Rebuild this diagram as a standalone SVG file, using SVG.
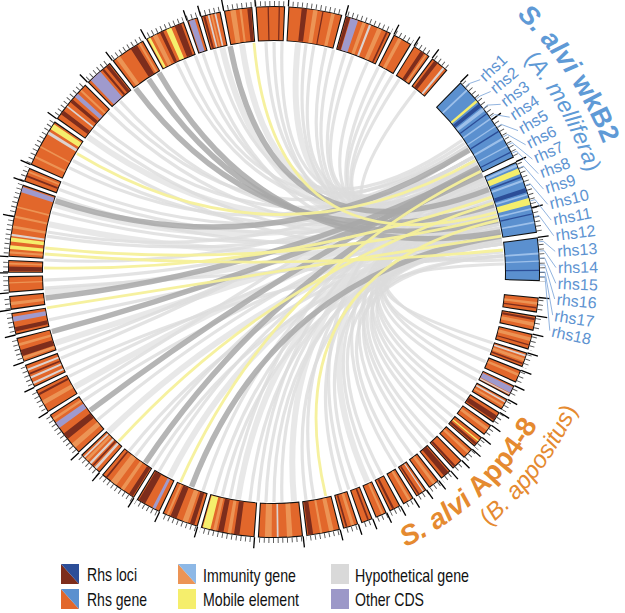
<svg xmlns="http://www.w3.org/2000/svg" xmlns:xlink="http://www.w3.org/1999/xlink" width="625" height="613" viewBox="0 0 625 613">
<style>
.l{fill:none;stroke:#dcdcdc;stroke-width:3.2;stroke-opacity:.8}
.L{fill:none;stroke:#e0e0e0;stroke-width:6;stroke-opacity:.75}
.d{fill:none;stroke:#a8a8a8;stroke-width:5.5;stroke-opacity:.85}
.y{fill:none;stroke:#f5f09a;stroke-width:2.8;stroke-opacity:.95}
.ol{fill:none;stroke:#111;stroke-width:35}
.fo{fill:none;stroke:#e2672b;stroke-width:33}
.fb{fill:none;stroke:#5b90cf;stroke-width:33}
.lo{stroke:#ec9455}.br{stroke:#7d2d1c}.pu{stroke:#9f9acd}.ye{stroke:#f5ee6c}.hy{stroke:#ddd3cf}.db{stroke:#2c4e98}.lb{stroke:#9dc0ea}
.mt{stroke:#000;stroke-width:1.3}
.ld{fill:none;stroke:#86acdb;stroke-width:.9}
text{font-family:"Liberation Sans",Arial,Helvetica,sans-serif}
.rhs{font-size:16px;fill:#5d93d1}
.lg{font-size:19px;fill:#111}
</style>
<defs>
<circle id="q" r="248.5" pathLength="360" fill="none" stroke-width="33"/>
<line id="tk" x1="266" y1="0" x2="277" y2="0"/>
<path id="k20" d="M226.5,-39.9Q0,0 226.5,39.9"/>
<path id="k30" d="M222.2,-59.5Q0,0 222.2,59.5"/>
<path id="k40" d="M216.1,-78.7Q0,0 216.1,78.7"/>
<path id="k50" d="M208.4,-97.2Q0,0 208.4,97.2"/>
<path id="k60" d="M199.2,-115Q0,0 199.2,115"/>
<path id="k70" d="M188.4,-131.9Q0,0 188.4,131.9"/>
<path id="k80" d="M176.2,-147.8Q0,0 176.2,147.8"/>
<path id="k90" d="M162.6,-162.6Q0,0 162.6,162.6"/>
<path id="k100" d="M147.8,-176.2Q0,0 147.8,176.2"/>
<path id="k110" d="M131.9,-188.4Q0,0 131.9,188.4"/>
<path id="k120" d="M115,-199.2Q0,0 115,199.2"/>
<path id="k130" d="M97.2,-208.4Q0,0 97.2,208.4"/>
<path id="k140" d="M78.7,-216.1Q0,0 78.7,216.1"/>
<path id="k150" d="M59.5,-222.2Q0,0 59.5,222.2"/>
<path id="k160" d="M39.9,-226.5Q0,0 39.9,226.5"/>
<path id="k170" d="M20,-229.1Q0,0 20,229.1"/>
<path id="k180" d="M0,-230Q0,0 0,230"/>
<path id="arcB1" d="M226.9,-270.4A353,353 0 0 1 351.7,-30.8"/>
<path id="arcB2" d="M210.8,-251.3A328,328 0 0 1 327.8,-11.4"/>
<path id="arcO1" d="M53,300.4A305,305 0 0 0 300.4,53"/>
<path id="arcO2" d="M57.8,327.9A333,333 0 0 0 327.9,57.8"/>
<mask id="tm" maskUnits="userSpaceOnUse" x="-300" y="-300" width="600" height="600">
<circle r="268.5" pathLength="360" fill="none" stroke="#fff" stroke-width="10" transform="rotate(3)" stroke-dasharray="0 2.5 3.3 .7 3.3 .7 3.5 .7 3.3 .7 2.9 .7 2.6 .7 2.6 .7 2.6 .7 2.6 .7 2.6 .7 2.6 .7 2.6 .7 2.6 .7 2.6 .7 2.6 .7 2.6 .7 2.6 .7 2.6 .7 2.6 .7 3.4 .7 7.4 .7 9.8 .7 11.8 .7 8.1 .7 5.6 .7 8.5 .7 5.5 .7 10.3 .7 5.4 .7 5.2 .7 5.4 .7 4.8 .7 3 .7 3.6 .7 2.8 .7 15.9 .7 3.2 .7 10.7 .7 9.6 .7 6.4 .7 7.9 .7 9 .7 2.4 .7 4.4 .7 6.2 .7 6.4 .7 11.8 .7 10.5 .7 4.3 .7 4 .7 4.2 60"/>
<circle r="268.5" pathLength="360" fill="none" stroke="#fff" stroke-width="10" transform="rotate(314.5)" stroke-dasharray="20 1 16 1 9.5 400"/>
</mask>
</defs>
<rect width="625" height="613" fill="#fff"/>
<g transform="translate(274 272)">
<g id="links">
<use href="#k90" transform="rotate(290)" class="l"/>
<use href="#k90" transform="rotate(295)" class="l"/>
<use href="#k70" transform="rotate(290)" class="l"/>
<use href="#k70" transform="rotate(297)" class="L"/>
<use href="#k70" transform="rotate(303)" class="l"/>
<use href="#k60" transform="rotate(302)" class="l"/>
<use href="#k60" transform="rotate(306)" class="L"/>
<use href="#k50" transform="rotate(305)" class="l"/>
<use href="#k60" transform="rotate(315)" class="l"/>
<use href="#k40" transform="rotate(310)" class="l"/>
<use href="#k50" transform="rotate(319)" class="l"/>
<use href="#k40" transform="rotate(319)" class="l"/>
<use href="#k30" transform="rotate(318)" class="l"/>
<use href="#k40" transform="rotate(328)" class="l"/>
<use href="#k80" transform="rotate(287)" class="l"/>
<use href="#k100" transform="rotate(302)" class="l"/>
<use href="#k90" transform="rotate(302)" class="L"/>
<use href="#k80" transform="rotate(310)" class="l"/>
<use href="#k70" transform="rotate(313)" class="l"/>
<use href="#k70" transform="rotate(318)" class="l"/>
<use href="#k50" transform="rotate(313)" class="l"/>
<use href="#k60" transform="rotate(327)" class="l"/>
<use href="#k40" transform="rotate(321)" class="l"/>
<use href="#k130" transform="rotate(268)" class="l"/>
<use href="#k120" transform="rotate(267)" class="l"/>
<use href="#k120" transform="rotate(276)" class="L"/>
<use href="#k110" transform="rotate(275)" class="l"/>
<use href="#k120" transform="rotate(284)" class="l"/>
<use href="#k110" transform="rotate(283)" class="l"/>
<use href="#k140" transform="rotate(283)" class="l"/>
<use href="#k130" transform="rotate(283)" class="l"/>
<use href="#k100" transform="rotate(276)" class="l"/>
<use href="#k130" transform="rotate(274)" class="l"/>
<use href="#k140" transform="rotate(271)" class="l"/>
<use href="#k140" transform="rotate(267)" class="L"/>
<use href="#k140" transform="rotate(260)" class="l"/>
<use href="#k150" transform="rotate(274)" class="l"/>
<use href="#k150" transform="rotate(270)" class="l"/>
<use href="#k160" transform="rotate(272)" class="L"/>
<use href="#k150" transform="rotate(264)" class="l"/>
<use href="#k150" transform="rotate(258)" class="l"/>
<use href="#k160" transform="rotate(258)" class="l"/>
<use href="#k170" transform="rotate(260)" class="L"/>
<use href="#k180" transform="rotate(266)" class="l"/>
<use href="#k180" transform="rotate(258)" class="l"/>
<use href="#k180" transform="rotate(252)" class="L"/>
<use href="#k170" transform="rotate(243)" class="l"/>
<use href="#k170" transform="rotate(245)" class="l"/>
<use href="#k180" transform="rotate(238)" class="l"/>
<use href="#k160" transform="rotate(75)" class="l"/>
<use href="#k170" transform="rotate(68)" class="l"/>
<use href="#k170" transform="rotate(65)" class="L"/>
<use href="#k160" transform="rotate(66)" class="l"/>
<use href="#k160" transform="rotate(60)" class="l"/>
<use href="#k150" transform="rotate(61)" class="L"/>
<use href="#k140" transform="rotate(59)" class="l"/>
<use href="#k150" transform="rotate(52)" class="l"/>
<use href="#k140" transform="rotate(50)" class="l"/>
<use href="#k130" transform="rotate(52)" class="L"/>
<use href="#k130" transform="rotate(57)" class="l"/>
<use href="#k130" transform="rotate(43)" class="l"/>
<use href="#k120" transform="rotate(45)" class="l"/>
<use href="#k110" transform="rotate(48)" class="l"/>
<use href="#k120" transform="rotate(39)" class="L"/>
<use href="#k130" transform="rotate(36)" class="l"/>
<use href="#k110" transform="rotate(41)" class="l"/>
<use href="#k120" transform="rotate(34)" class="l"/>
<use href="#k110" transform="rotate(37)" class="l"/>
<use href="#k100" transform="rotate(40)" class="l"/>
<use href="#k100" transform="rotate(38)" class="l"/>
<use href="#k110" transform="rotate(30)" class="L"/>
<use href="#k90" transform="rotate(37)" class="l"/>
<use href="#k100" transform="rotate(30)" class="l"/>
<use href="#k90" transform="rotate(28)" class="l"/>
<use href="#k100" transform="rotate(21)" class="l"/>
<use href="#k80" transform="rotate(29)" class="l"/>
<use href="#k90" transform="rotate(21)" class="L"/>
<use href="#k80" transform="rotate(24)" class="l"/>
<use href="#k70" transform="rotate(27)" class="l"/>
<use href="#k80" transform="rotate(18)" class="l"/>
<use href="#k70" transform="rotate(18)" class="l"/>
<use href="#k60" transform="rotate(26)" class="l"/>
<use href="#k60" transform="rotate(20)" class="l"/>
<use href="#k70" transform="rotate(13)" class="l"/>
<use href="#k60" transform="rotate(16)" class="l"/>
<use href="#k50" transform="rotate(18)" class="l"/>
<use href="#k50" transform="rotate(16)" class="l"/>
<use href="#k60" transform="rotate(9)" class="l"/>
<use href="#k40" transform="rotate(16)" class="l"/>
<use href="#k50" transform="rotate(9)" class="l"/>
<use href="#k50" transform="rotate(7)" class="l"/>
<use href="#k40" transform="rotate(8)" class="l"/>
<use href="#k50" transform="rotate(1)" class="l"/>
<use href="#k30" transform="rotate(8)" class="l"/>
<use href="#k40" transform="rotate(0)" class="l"/>
<use href="#k20" transform="rotate(8)" class="l"/>
<use href="#k80" transform="rotate(299)" class="d"/>
<use href="#k110" transform="rotate(288)" class="d"/>
<use href="#k110" transform="rotate(292)" class="d"/>
<use href="#k110" transform="rotate(295)" class="d"/>
<use href="#k130" transform="rotate(263)" class="d"/>
<use href="#k160" transform="rotate(253.5)" class="d"/>
<use href="#k170" transform="rotate(250)" class="d"/>
<use href="#k170" transform="rotate(58)" class="d"/>
<use href="#k150" transform="rotate(49)" class="d"/>
<use href="#k120" transform="rotate(51)" class="d"/>
<use href="#k80" transform="rotate(305)" class="y"/>
<use href="#k120" transform="rotate(271)" class="y"/>
<use href="#k160" transform="rotate(266)" class="y"/>
<use href="#k170" transform="rotate(269.5)" class="y"/>
<use href="#k160" transform="rotate(261)" class="y"/>
<use href="#k180" transform="rotate(261)" class="y"/>
<use href="#k150" transform="rotate(57.5)" class="y"/>
<use href="#k140" transform="rotate(44)" class="y"/>
<use href="#k90" transform="rotate(32)" class="y"/>
</g>
<g id="genome-App4-8">
<circle class="ol" r="248.5" pathLength="360" transform="rotate(3)" stroke-dasharray="0 2.5 3.3 .7 3.3 .7 3.5 .7 3.3 .7 2.9 .7 2.6 .7 2.6 .7 2.6 .7 2.6 .7 2.6 .7 2.6 .7 2.6 .7 2.6 .7 2.6 .7 2.6 .7 2.6 .7 2.6 .7 2.6 .7 2.6 .7 3.4 .7 7.4 .7 9.8 .7 11.8 .7 8.1 .7 5.6 .7 8.5 .7 5.5 .7 10.3 .7 5.4 .7 5.2 .7 5.4 .7 4.8 .7 3 .7 3.6 .7 2.8 .7 15.9 .7 3.2 .7 10.7 .7 9.6 .7 6.4 .7 7.9 .7 9 .7 2.4 .7 4.4 .7 6.2 .7 6.4 .7 11.8 .7 10.5 .7 4.3 .7 4 .7 4.2 60"/>
<circle class="fo" r="248.5" pathLength="360" transform="rotate(3)" stroke-dasharray="0 2.75 2.8 1.2 2.8 1.2 3 1.2 2.8 1.2 2.4 1.2 2.1 1.2 2.1 1.2 2.1 1.2 2.1 1.2 2.1 1.2 2.1 1.2 2.1 1.2 2.1 1.2 2.1 1.2 2.1 1.2 2.1 1.2 2.1 1.2 2.1 1.2 2.1 1.2 2.9 1.2 6.9 1.2 9.3 1.2 11.3 1.2 7.6 1.2 5.1 1.2 8 1.2 5 1.2 9.8 1.2 4.9 1.2 4.7 1.2 4.9 1.2 4.3 1.2 2.5 1.2 3.1 1.2 2.3 1.2 15.4 1.2 2.7 1.2 10.2 1.2 9.1 1.2 5.9 1.2 7.4 1.2 8.5 1.2 1.9 1.2 3.9 1.2 5.7 1.2 5.9 1.2 11.3 1.2 10 1.2 3.8 1.2 3.5 1.2 3.7 60"/>
<g id="app-bands">
<use href="#q" class="lo" stroke-dasharray=".6 400" transform="rotate(6.5)"/>
<use href="#q" class="br" stroke-dasharray=".3 400" transform="rotate(7.6)"/>
<use href="#q" class="br" stroke-dasharray=".5 400" transform="rotate(10)"/>
<use href="#q" class="lo" stroke-dasharray=".8 400" transform="rotate(11)"/>
<use href="#q" class="lo" stroke-dasharray=".8 400" transform="rotate(14.3)"/>
<use href="#q" class="br" stroke-dasharray=".3 400" transform="rotate(15.8)"/>
<use href="#q" class="hy" stroke-dasharray=".4 400" transform="rotate(18.2)"/>
<use href="#q" class="lo" stroke-dasharray=".7 400" transform="rotate(19)"/>
<use href="#q" class="br" stroke-dasharray=".4 400" transform="rotate(20)"/>
<use href="#q" class="lo" stroke-dasharray=".6 400" transform="rotate(22.5)"/>
<use href="#q" class="pu" stroke-dasharray="1.3 400" transform="rotate(25.8)"/>
<use href="#q" class="hy" stroke-dasharray=".3 400" transform="rotate(27.2)"/>
<use href="#q" class="hy" stroke-dasharray=".4 400" transform="rotate(29.1)"/>
<use href="#q" class="lo" stroke-dasharray=".5 400" transform="rotate(30)"/>
<use href="#q" class="br" stroke-dasharray="1.2 400" transform="rotate(32.8)"/>
<use href="#q" class="lo" stroke-dasharray=".7 400" transform="rotate(36)"/>
<use href="#q" class="ye" stroke-dasharray=".3 400" transform="rotate(39.4)"/>
<use href="#q" class="br" stroke-dasharray=".6 400" transform="rotate(40.1)"/>
<use href="#q" class="lo" stroke-dasharray=".6 400" transform="rotate(42.6)"/>
<use href="#q" class="br" stroke-dasharray=".5 400" transform="rotate(46.8)"/>
<use href="#q" class="br" stroke-dasharray="1.3 400" transform="rotate(48.9)"/>
<use href="#q" class="lo" stroke-dasharray=".7 400" transform="rotate(52.5)"/>
<use href="#q" class="hy" stroke-dasharray=".3 400" transform="rotate(55.6)"/>
<use href="#q" class="br" stroke-dasharray=".4 400" transform="rotate(56.7)"/>
<use href="#q" class="lo" stroke-dasharray=".6 400" transform="rotate(59)"/>
<use href="#q" class="br" stroke-dasharray=".5 400" transform="rotate(63)"/>
<use href="#q" class="lo" stroke-dasharray=".5 400" transform="rotate(65.6)"/>
<use href="#q" class="br" stroke-dasharray=".4 400" transform="rotate(69)"/>
<use href="#q" class="lo" stroke-dasharray=".7 400" transform="rotate(72.4)"/>
<use href="#q" class="br" stroke-dasharray=".4 400" transform="rotate(73.9)"/>
<use href="#q" class="lo" stroke-dasharray="1 400" transform="rotate(77)"/>
<use href="#q" class="lo" stroke-dasharray=".5 400" transform="rotate(79.5)"/>
<use href="#q" class="br" stroke-dasharray="1.1 400" transform="rotate(81.5)"/>
<use href="#q" class="lo" stroke-dasharray="1.2 400" transform="rotate(86)"/>
<use href="#q" class="hy" stroke-dasharray=".4 400" transform="rotate(89)"/>
<use href="#q" class="lo" stroke-dasharray="1.5 400" transform="rotate(90.5)"/>
<use href="#q" class="br" stroke-dasharray="1.2 400" transform="rotate(97.5)"/>
<use href="#q" class="lo" stroke-dasharray=".8 400" transform="rotate(99.3)"/>
<use href="#q" class="br" stroke-dasharray="1.2 400" transform="rotate(101)"/>
<use href="#q" class="lo" stroke-dasharray=".7 400" transform="rotate(102.6)"/>
<use href="#q" class="ye" stroke-dasharray="1.7 400" transform="rotate(103.9)"/>
<use href="#q" class="br" stroke-dasharray="1 400" transform="rotate(107.5)"/>
<use href="#q" class="lo" stroke-dasharray="1.2 400" transform="rotate(109)"/>
<use href="#q" class="br" stroke-dasharray="1.4 400" transform="rotate(111.6)"/>
<use href="#q" class="lo" stroke-dasharray=".5 400" transform="rotate(113.4)"/>
<use href="#q" class="pu" stroke-dasharray=".7 400" transform="rotate(116.6)"/>
<use href="#q" class="br" stroke-dasharray="1.6 400" transform="rotate(119.1)"/>
<use href="#q" class="br" stroke-dasharray="1 400" transform="rotate(122.2)"/>
<use href="#q" class="lo" stroke-dasharray=".8 400" transform="rotate(124.5)"/>
<use href="#q" class="lo" stroke-dasharray="1.5 400" transform="rotate(126.5)"/>
<use href="#q" class="br" stroke-dasharray=".4 400" transform="rotate(129)"/>
<use href="#q" class="hy" stroke-dasharray=".6 400" transform="rotate(132)"/>
<use href="#q" class="br" stroke-dasharray=".4 400" transform="rotate(132.9)"/>
<use href="#q" class="hy" stroke-dasharray=".5 400" transform="rotate(133.6)"/>
<use href="#q" class="lo" stroke-dasharray=".6 400" transform="rotate(134.6)"/>
<use href="#q" class="hy" stroke-dasharray=".4 400" transform="rotate(135.5)"/>
<use href="#q" class="lo" stroke-dasharray="1.2 400" transform="rotate(138.5)"/>
<use href="#q" class="br" stroke-dasharray="1.5 400" transform="rotate(141)"/>
<use href="#q" class="pu" stroke-dasharray="1.4 400" transform="rotate(144)"/>
<use href="#q" class="lo" stroke-dasharray=".6 400" transform="rotate(146)"/>
<use href="#q" class="lo" stroke-dasharray="1 400" transform="rotate(150)"/>
<use href="#q" class="br" stroke-dasharray=".5 400" transform="rotate(152.3)"/>
<use href="#q" class="hy" stroke-dasharray=".5 400" transform="rotate(155)"/>
<use href="#q" class="hy" stroke-dasharray=".5 400" transform="rotate(156.3)"/>
<use href="#q" class="br" stroke-dasharray=".4 400" transform="rotate(157.2)"/>
<use href="#q" class="hy" stroke-dasharray=".5 400" transform="rotate(158.1)"/>
<use href="#q" class="lo" stroke-dasharray=".6 400" transform="rotate(160.8)"/>
<use href="#q" class="br" stroke-dasharray="1.4 400" transform="rotate(161.5)"/>
<use href="#q" class="lo" stroke-dasharray=".6 400" transform="rotate(163.8)"/>
<use href="#q" class="br" stroke-dasharray="1 400" transform="rotate(167)"/>
<use href="#q" class="pu" stroke-dasharray="1.1 400" transform="rotate(169.2)"/>
<use href="#q" class="lo" stroke-dasharray=".7 400" transform="rotate(172.8)"/>
<use href="#q" class="lo" stroke-dasharray=".3 400" transform="rotate(177.5)"/>
<use href="#q" class="br" stroke-dasharray="1 400" transform="rotate(180.2)"/>
<use href="#q" class="lo" stroke-dasharray=".4 400" transform="rotate(181.6)"/>
<use href="#q" class="lo" stroke-dasharray=".5 400" transform="rotate(184)"/>
<use href="#q" class="ye" stroke-dasharray=".8 400" transform="rotate(185)"/>
<use href="#q" class="ye" stroke-dasharray=".9 400" transform="rotate(186.6)"/>
<use href="#q" class="hy" stroke-dasharray=".5 400" transform="rotate(187.8)"/>
<use href="#q" class="lo" stroke-dasharray=".6 400" transform="rotate(189.5)"/>
<use href="#q" class="lo" stroke-dasharray=".5 400" transform="rotate(191.8)"/>
<use href="#q" class="lo" stroke-dasharray=".4 400" transform="rotate(194)"/>
<use href="#q" class="pu" stroke-dasharray="1.2 400" transform="rotate(197.5)"/>
<use href="#q" class="br" stroke-dasharray=".4 400" transform="rotate(201)"/>
<use href="#q" class="lo" stroke-dasharray=".4 400" transform="rotate(202)"/>
<use href="#q" class="lo" stroke-dasharray=".5 400" transform="rotate(205.5)"/>
<use href="#q" class="lo" stroke-dasharray=".4 400" transform="rotate(208)"/>
<use href="#q" class="hy" stroke-dasharray=".7 400" transform="rotate(211.3)"/>
<use href="#q" class="ye" stroke-dasharray="1.3 400" transform="rotate(212.6)"/>
<use href="#q" class="br" stroke-dasharray="1 400" transform="rotate(216.5)"/>
<use href="#q" class="hy" stroke-dasharray=".4 400" transform="rotate(218.5)"/>
<use href="#q" class="br" stroke-dasharray=".8 400" transform="rotate(219.8)"/>
<use href="#q" class="pu" stroke-dasharray="1 400" transform="rotate(221.3)"/>
<use href="#q" class="lo" stroke-dasharray=".5 400" transform="rotate(223)"/>
<use href="#q" class="pu" stroke-dasharray="2.8 400" transform="rotate(226.3)"/>
<use href="#q" class="br" stroke-dasharray=".5 400" transform="rotate(229.6)"/>
<use href="#q" class="br" stroke-dasharray=".8 400" transform="rotate(230.7)"/>
<use href="#q" class="lo" stroke-dasharray="1 400" transform="rotate(233.5)"/>
<use href="#q" class="br" stroke-dasharray="1.6 400" transform="rotate(237.3)"/>
<use href="#q" class="lo" stroke-dasharray=".5 400" transform="rotate(239.3)"/>
<use href="#q" class="ye" stroke-dasharray=".6 400" transform="rotate(241.6)"/>
<use href="#q" class="lo" stroke-dasharray="1 400" transform="rotate(242.8)"/>
<use href="#q" class="br" stroke-dasharray=".8 400" transform="rotate(244.5)"/>
<use href="#q" class="ye" stroke-dasharray="1.2 400" transform="rotate(246)"/>
<use href="#q" class="br" stroke-dasharray="1.5 400" transform="rotate(248)"/>
<use href="#q" class="pu" stroke-dasharray="1.3 400" transform="rotate(251.3)"/>
<use href="#q" class="br" stroke-dasharray=".5 400" transform="rotate(254.5)"/>
<use href="#q" class="hy" stroke-dasharray=".4 400" transform="rotate(255.5)"/>
<use href="#q" class="lo" stroke-dasharray=".4 400" transform="rotate(256.2)"/>
<use href="#q" class="hy" stroke-dasharray=".4 400" transform="rotate(257)"/>
<use href="#q" class="lo" stroke-dasharray="1.2 400" transform="rotate(260.5)"/>
<use href="#q" class="lo" stroke-dasharray=".5 400" transform="rotate(262.5)"/>
<use href="#q" class="br" stroke-dasharray=".8 400" transform="rotate(264.2)"/>
<use href="#q" class="br" stroke-dasharray=".3 400" transform="rotate(268.6)"/>
<use href="#q" class="br" stroke-dasharray=".3 400" transform="rotate(271)"/>
<use href="#q" class="br" stroke-dasharray="1.2 400" transform="rotate(276)"/>
<use href="#q" class="lo" stroke-dasharray="1 400" transform="rotate(278.5)"/>
<use href="#q" class="br" stroke-dasharray=".3 400" transform="rotate(280.5)"/>
<use href="#q" class="lo" stroke-dasharray=".8 400" transform="rotate(282.5)"/>
<use href="#q" class="br" stroke-dasharray=".8 400" transform="rotate(285.9)"/>
<use href="#q" class="pu" stroke-dasharray="1.7 400" transform="rotate(286.8)"/>
<use href="#q" class="lo" stroke-dasharray=".8 400" transform="rotate(289.5)"/>
<use href="#q" class="hy" stroke-dasharray=".5 400" transform="rotate(291)"/>
<use href="#q" class="lo" stroke-dasharray="1 400" transform="rotate(293)"/>
<use href="#q" class="br" stroke-dasharray=".4 400" transform="rotate(295)"/>
<use href="#q" class="lo" stroke-dasharray=".8 400" transform="rotate(298)"/>
<use href="#q" class="br" stroke-dasharray=".9 400" transform="rotate(303.6)"/>
<use href="#q" class="lo" stroke-dasharray=".4 400" transform="rotate(304.8)"/>
<use href="#q" class="br" stroke-dasharray=".9 400" transform="rotate(307.2)"/>
<use href="#q" class="hy" stroke-dasharray=".5 400" transform="rotate(309.5)"/>
</g>
</g>
<g id="genome-wkB2">
<circle class="ol" r="248.5" pathLength="360" transform="rotate(314.5)" stroke-dasharray="20 1 16 1 9.5 400"/>
<circle class="fb" r="248.5" pathLength="360" transform="rotate(314.75)" stroke-dasharray="19.5 1.5 15.5 1.5 9 400"/>
<g id="wkb2-bands">
<use href="#q" class="lb" stroke-dasharray=".4 400" transform="rotate(316.5)"/>
<use href="#q" class="ye" stroke-dasharray=".6 400" transform="rotate(319.6)"/>
<use href="#q" class="db" stroke-dasharray=".9 400" transform="rotate(320.6)"/>
<use href="#q" class="lb" stroke-dasharray=".8 400" transform="rotate(321.8)"/>
<use href="#q" class="db" stroke-dasharray=".3 400" transform="rotate(323.2)"/>
<use href="#q" class="lb" stroke-dasharray=".4 400" transform="rotate(324.5)"/>
<use href="#q" class="lb" stroke-dasharray=".3 400" transform="rotate(326.5)"/>
<use href="#q" class="db" stroke-dasharray=".3 400" transform="rotate(327.8)"/>
<use href="#q" class="lb" stroke-dasharray=".5 400" transform="rotate(329.5)"/>
<use href="#q" class="lb" stroke-dasharray=".3 400" transform="rotate(331.5)"/>
<use href="#q" class="db" stroke-dasharray=".3 400" transform="rotate(333)"/>
<use href="#q" class="lb" stroke-dasharray=".6 400" transform="rotate(336)"/>
<use href="#q" class="ye" stroke-dasharray="1.3 400" transform="rotate(337)"/>
<use href="#q" class="db" stroke-dasharray=".4 400" transform="rotate(338.8)"/>
<use href="#q" class="lb" stroke-dasharray=".5 400" transform="rotate(339.6)"/>
<use href="#q" class="db" stroke-dasharray="1 400" transform="rotate(341.5)"/>
<use href="#q" class="lb" stroke-dasharray=".4 400" transform="rotate(342.8)"/>
<use href="#q" class="ye" stroke-dasharray="1.5 400" transform="rotate(343.8)"/>
<use href="#q" class="lb" stroke-dasharray=".4 400" transform="rotate(346)"/>
<use href="#q" class="db" stroke-dasharray=".3 400" transform="rotate(347.2)"/>
<use href="#q" class="lb" stroke-dasharray=".4 400" transform="rotate(349)"/>
<use href="#q" class="lb" stroke-dasharray=".4 400" transform="rotate(355.8)"/>
<use href="#q" class="lb" stroke-dasharray=".3 400" transform="rotate(357.5)"/>
<use href="#q" class="db" stroke-dasharray=".3 400" transform="rotate(359.5)"/>
</g>
</g>
<g id="ticks">
<circle r="268.5" pathLength="360" fill="none" stroke="#555" stroke-width="5" stroke-dasharray=".2 .8" mask="url(#tm)"/>
<g class="mt">
<use href="#tk" transform="rotate(5.5)"/><use href="#tk" transform="rotate(9.5)"/><use href="#tk" transform="rotate(13.5)"/><use href="#tk" transform="rotate(17.7)"/><use href="#tk" transform="rotate(21.7)"/><use href="#tk" transform="rotate(25.3)"/><use href="#tk" transform="rotate(28.6)"/><use href="#tk" transform="rotate(31.9)"/><use href="#tk" transform="rotate(35.2)"/><use href="#tk" transform="rotate(38.5)"/><use href="#tk" transform="rotate(41.8)"/><use href="#tk" transform="rotate(45.1)"/><use href="#tk" transform="rotate(48.4)"/><use href="#tk" transform="rotate(51.7)"/><use href="#tk" transform="rotate(55)"/><use href="#tk" transform="rotate(58.3)"/><use href="#tk" transform="rotate(61.6)"/><use href="#tk" transform="rotate(64.9)"/><use href="#tk" transform="rotate(68.2)"/><use href="#tk" transform="rotate(71.5)"/><use href="#tk" transform="rotate(75.6)"/><use href="#tk" transform="rotate(83.7)"/><use href="#tk" transform="rotate(94.2)"/><use href="#tk" transform="rotate(106.7)"/><use href="#tk" transform="rotate(115.5)"/><use href="#tk" transform="rotate(121.8)"/><use href="#tk" transform="rotate(131)"/><use href="#tk" transform="rotate(137.2)"/><use href="#tk" transform="rotate(148.2)"/><use href="#tk" transform="rotate(154.3)"/><use href="#tk" transform="rotate(160.2)"/><use href="#tk" transform="rotate(166.3)"/><use href="#tk" transform="rotate(171.8)"/><use href="#tk" transform="rotate(175.5)"/><use href="#tk" transform="rotate(179.8)"/><use href="#tk" transform="rotate(183.3)"/><use href="#tk" transform="rotate(192)"/><use href="#tk" transform="rotate(199.9)"/><use href="#tk" transform="rotate(203.8)"/><use href="#tk" transform="rotate(215.2)"/><use href="#tk" transform="rotate(225.5)"/><use href="#tk" transform="rotate(232.6)"/><use href="#tk" transform="rotate(241.2)"/><use href="#tk" transform="rotate(250.9)"/><use href="#tk" transform="rotate(254)"/><use href="#tk" transform="rotate(259.1)"/><use href="#tk" transform="rotate(266)"/><use href="#tk" transform="rotate(273.1)"/><use href="#tk" transform="rotate(285.6)"/><use href="#tk" transform="rotate(296.8)"/><use href="#tk" transform="rotate(301.8)"/><use href="#tk" transform="rotate(306.5)"/><use href="#tk" transform="rotate(314.5)"/><use href="#tk" transform="rotate(325)"/><use href="#tk" transform="rotate(335.5)"/><use href="#tk" transform="rotate(346)"/><use href="#tk" transform="rotate(352.5)"/>
</g>
</g>
<g id="rhs-leaders" class="ld">
<path d="M191.3,-184.8L194.9,-188.3L206.2,-192.3"/>
<path d="M202.3,-172.8L206.1,-176L216.7,-180.5"/>
<path d="M209.6,-163.8L213.5,-166.9L226.7,-167.7"/>
<path d="M216.5,-154.5L220.6,-157.4L235.7,-154.8"/>
<path d="M223.1,-144.9L227.3,-147.6L244,-141.4"/>
<path d="M229.2,-135L233.5,-137.5L251.7,-127.2"/>
<path d="M233.8,-126.9L238.2,-129.3L258.4,-112.9"/>
<path d="M238,-118.7L242.5,-120.9L264.3,-98.3"/>
<path d="M244.9,-103.9L249.5,-105.9L269.5,-82.9"/>
<path d="M251.5,-86.6L256.2,-88.2L273.7,-67.7"/>
<path d="M256.3,-71.1L261.1,-72.4L277.2,-51.9"/>
<path d="M260.2,-55.3L265.1,-56.3L279.7,-36.3"/>
<path d="M264.3,-30.1L269.3,-30.7L281.2,-20.6"/>
<path d="M265.2,-20.9L270.2,-21.3L282,-4.4"/>
<path d="M265.6,-13.9L270.6,-14.2L281.8,11.3"/>
<path d="M265.9,-7L270.9,-7.1L280.7,27"/>
<path d="M266,0L271,0L278.7,43.1"/>
<path d="M266,4.6L271,4.7L275.8,58.6"/>
</g>
<g id="rhs-labels">
<text class="rhs" transform="rotate(317) translate(284 0)" dy=".35em">rhs1</text>
<text class="rhs" transform="rotate(320.2) translate(284 0)" dy=".35em">rhs2</text>
<text class="rhs" transform="rotate(323.5) translate(284 0)" dy=".35em">rhs3</text>
<text class="rhs" transform="rotate(326.7) translate(284 0)" dy=".35em">rhs4</text>
<text class="rhs" transform="rotate(329.9) translate(284 0)" dy=".35em">rhs5</text>
<text class="rhs" transform="rotate(333.2) translate(284 0)" dy=".35em">rhs6</text>
<text class="rhs" transform="rotate(336.4) translate(284 0)" dy=".35em">rhs7</text>
<text class="rhs" transform="rotate(339.6) translate(284 0)" dy=".35em">rhs8</text>
<text class="rhs" transform="rotate(342.9) translate(284 0)" dy=".35em">rhs9</text>
<text class="rhs" transform="rotate(346.1) translate(284 0)" dy=".35em">rhs10</text>
<text class="rhs" transform="rotate(349.4) translate(284 0)" dy=".35em">rhs11</text>
<text class="rhs" transform="rotate(352.6) translate(284 0)" dy=".35em">rhs12</text>
<text class="rhs" transform="rotate(355.8) translate(284 0)" dy=".35em">rhs13</text>
<text class="rhs" transform="rotate(359.1) translate(284 0)" dy=".35em">rhs14</text>
<text class="rhs" transform="rotate(2.3) translate(284 0)" dy=".35em">rhs15</text>
<text class="rhs" transform="rotate(5.5) translate(284 0)" dy=".35em">rhs16</text>
<text class="rhs" transform="rotate(8.8) translate(284 0)" dy=".35em">rhs17</text>
<text class="rhs" transform="rotate(12) translate(284 0)" dy=".35em">rhs18</text>
</g>
<g id="genome-labels">
<text font-size="27" font-weight="bold" fill="#5f9ad6"><textPath href="#arcB1" startOffset="21"><tspan font-style="italic">S. alvi</tspan> wkB2</textPath></text>
<text font-size="23" fill="#5f9ad6"><textPath href="#arcB2" startOffset="55">(<tspan font-style="italic">A. mellifera</tspan>)</textPath></text>
<text font-size="28" font-weight="bold" fill="#e58a30"><textPath href="#arcO1" startOffset="83"><tspan font-style="italic">S. alvi</tspan> App4-8</textPath></text>
<text font-size="24" fill="#e58a30"><textPath href="#arcO2" startOffset="175">(<tspan font-style="italic">B. appositus</tspan>)</textPath></text>
</g>
</g>
<g id="legend">
<polygon points="61,564 61,584 79,584" fill="#7d2d1c"/><polygon points="61,564 79,564 79,584" fill="#2c4e98"/>
<polygon points="61,589 61,609 79,609" fill="#e2672b"/><polygon points="61,589 79,589 79,609" fill="#5b90cf"/>
<polygon points="178,564 178,584 196,584" fill="#ec9455"/><polygon points="178,564 196,564 196,584" fill="#8db8e6"/>
<rect x="178" y="589" width="18" height="20" fill="#f5ee6c"/>
<rect x="331" y="564" width="18" height="20" fill="#d9d9d9"/>
<rect x="331" y="589" width="18" height="20" fill="#9c98c8"/>
<text class="lg" x="87" y="581" textLength="50" lengthAdjust="spacingAndGlyphs">Rhs loci</text>
<text class="lg" x="87" y="606" textLength="60" lengthAdjust="spacingAndGlyphs">Rhs gene</text>
<text class="lg" x="203" y="582" textLength="93" lengthAdjust="spacingAndGlyphs">Immunity gene</text>
<text class="lg" x="203" y="606" textLength="96" lengthAdjust="spacingAndGlyphs">Mobile element</text>
<text class="lg" x="355" y="582" textLength="114" lengthAdjust="spacingAndGlyphs">Hypothetical gene</text>
<text class="lg" x="355" y="606" textLength="69" lengthAdjust="spacingAndGlyphs">Other CDS</text>
</g>
</svg>
